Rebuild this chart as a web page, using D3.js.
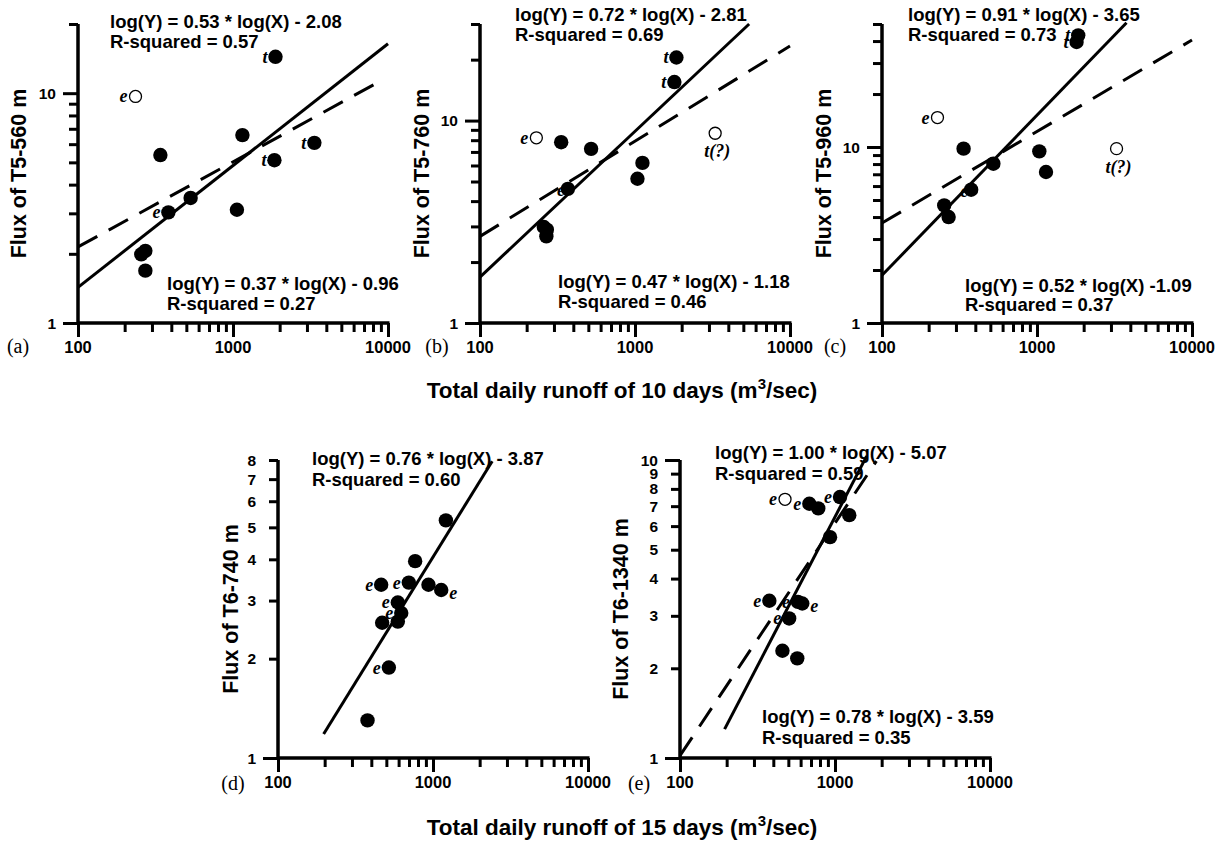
<!DOCTYPE html>
<html>
<head>
<meta charset="utf-8">
<script src="https://cdn.jsdelivr.net/npm/d3@7"></script>
<style>
  body { margin: 0; background: #fff; }
  svg text { font-family: "Liberation Sans", Arial, sans-serif; font-weight: bold; fill: #000; }
  svg text.tag, svg text.panel { font-family: "Liberation Serif", "Times New Roman", serif; font-weight: normal; }
  svg text.tag { font-style: italic; font-weight: bold; }
</style>
</head>
<body>
<svg id="fig" width="1229" height="842"></svg>
<script>
// ---------------- data ----------------
const xMajorTicks = [100, 1000, 10000];
const xMinorTicks = [200, 300, 400, 500, 600, 700, 800, 900, 2000, 3000, 4000, 5000, 6000, 7000, 8000, 9000];

const yTicksA = [1, 2, 3, 4, 5, 6, 7, 8, 9, 10, 20];
const yTicksB = [1, 2, 3, 4, 5, 6, 7, 8, 9, 10, 20, 30];
const yTicksC = [1, 2, 3, 4, 5, 6, 7, 8, 9, 10, 20, 30, 40, 50];
const yTicksD = [1, 2, 3, 4, 5, 6, 7, 8];
const yTicksE = [1, 2, 3, 4, 5, 6, 7, 8, 9, 10];
const yLabelsA = [1, 10];
const yLabelsB = [1, 10];
const yLabelsC = [1, 10];
const yLabelsD = [1, 2, 3, 4, 5, 6, 7, 8];
const yLabelsE = [1, 2, 3, 4, 5, 6, 7, 8, 9, 10];

// (a) T5-560 m vs 10-day runoff
const runoffA = [1880, 235, 1150, 3350, 340, 1850, 533, 383, 1060, 272, 256, 272];
const fluxA   = [14.4, 9.68, 6.57, 6.08, 5.38, 5.11, 3.50, 3.03, 3.11, 2.06, 1.99, 1.69];
const openA   = [false, true, false, false, false, false, false, false, false, false, false, false];
const tagA    = ["t", "e", "", "t", "", "t", "", "e", "", "", "", ""];

// (b) T5-760 m vs 10-day runoff
const runoffB = [1850, 1795, 231, 3290, 334, 521, 1117, 1037, 369, 258, 270, 268];
const fluxB   = [20.5, 15.5, 8.22, 8.66, 7.82, 7.25, 6.18, 5.16, 4.60, 2.98, 2.89, 2.68];
const openB   = [false, false, true, true, false, false, false, false, false, false, false, false];
const tagB    = ["t", "t", "e", "t(?)", "", "", "", "", "e", "", "", ""];

// (c) T5-960 m vs 10-day runoff
const runoffC = [1845, 1800, 228, 3260, 336, 1035, 1143, 523, 376, 252, 269];
const fluxC   = [43.1, 39.5, 14.7, 9.79, 9.79, 9.45, 7.21, 8.04, 5.72, 4.66, 4.0];
const openC   = [false, false, true, true, false, false, false, false, false, false, false];
const tagC    = ["t", "t", "e", "t(?)", "", "", "", "", "e", "", ""];

// (d) T6-740 m vs 15-day runoff
const runoffD = [1211, 767, 463, 698, 935, 1130, 593, 624, 470, 593, 519, 378];
const fluxD   = [5.25, 3.95, 3.35, 3.40, 3.35, 3.23, 2.96, 2.75, 2.57, 2.59, 1.88, 1.30];
const openD   = [false, false, false, false, false, false, false, false, false, false, false, false];
const tagD    = ["", "", "e", "e", "", "e", "e", "e", "", "", "e", ""];

// (e) T6-1340 m vs 15-day runoff
const runoffE = [476, 683, 780, 1077, 1236, 929, 377, 577, 615, 506, 458, 571];
const fluxE   = [7.38, 7.13, 6.88, 7.51, 6.53, 5.51, 3.37, 3.34, 3.30, 2.94, 2.29, 2.16];
const openE   = [true, false, false, false, false, false, false, false, false, false, false, false];
const tagE    = ["e", "e", "", "e", "", "", "e", "e", "e", "e", "", ""];

// fitted lines: log10(Y) = slope * log10(X) + offset, drawn over [from, to]
const fitSlopeA = [0.53, 0.37],  fitOffsetA = [-0.905, -0.409], fitRangeA = [[100, 10000], [100, 8200]];
const fitSlopeB = [0.72, 0.47],  fitOffsetB = [-1.213, -0.512], fitRangeB = [[100, 5450], [100, 10000]];
const fitSlopeC = [0.91, 0.52],  fitOffsetC = [-1.549, -0.472], fitRangeC = [[100, 3780], [100, 10000]];
const fitSlopeD = [0.76],        fitOffsetD = [-1.671],         fitRangeD = [[197, 2410]];
const fitSlopeE = [1.00, 0.78],  fitOffsetE = [-2.191, -1.552], fitRangeE = [[194, 1600], [100, 1850]];

const eqA = ["log(Y) = 0.53 * log(X) - 2.08", "R-squared = 0.57", "log(Y) = 0.37 * log(X) - 0.96", "R-squared = 0.27"];
const eqB = ["log(Y) = 0.72 * log(X) - 2.81", "R-squared = 0.69", "log(Y) = 0.47 * log(X) - 1.18", "R-squared = 0.46"];
const eqC = ["log(Y) = 0.91 * log(X) - 3.65", "R-squared = 0.73", "log(Y) = 0.52 * log(X) -1.09", "R-squared = 0.37"];
const eqD = ["log(Y) = 0.76 * log(X) - 3.87", "R-squared = 0.60"];
const eqE = ["log(Y) = 1.00 * log(X) - 5.07", "R-squared = 0.59", "log(Y) = 0.78 * log(X) - 3.59", "R-squared = 0.35"];

// ---------------- layout ----------------
const panels = [
  { x0: 78,  x1: 388, yb: 323, ymax: 20, yt: 24, ticks: yTicksA, labels: yLabelsA, major: [1, 10],
    title: "Flux of T5-560 m", titleX: 26, name: "(a)", nameX: 18, nameY: 353,
    runoff: runoffA, flux: fluxA, open: openA, tag: tagA, tagSide: {},
    slope: fitSlopeA, offset: fitOffsetA, range: fitRangeA, dash: ["", "22,13"],
    eq: eqA, eqPos: [[110, 28], [110, 48], [167, 290], [167, 310]] },
  { x0: 480, x1: 790, yb: 323, ymax: 30, yt: 24, ticks: yTicksB, labels: yLabelsB, major: [1, 10],
    title: "Flux of T5-760 m", titleX: 429, name: "(b)", nameX: 437, nameY: 353,
    runoff: runoffB, flux: fluxB, open: openB, tag: tagB, tagSide: {3: "b", 8: "in"},
    slope: fitSlopeB, offset: fitOffsetB, range: fitRangeB, dash: ["", "22,13"],
    eq: eqB, eqPos: [[515, 21], [515, 41], [558, 288], [558, 308]] },
  { x0: 882, x1: 1192, yb: 323, ymax: 50, yt: 24, ticks: yTicksC, labels: yLabelsC, major: [1, 10],
    title: "Flux of T5-960 m", titleX: 831, name: "(c)", nameX: 835, nameY: 353,
    runoff: runoffC, flux: fluxC, open: openC, tag: tagC, tagSide: {3: "b", 8: "in"},
    slope: fitSlopeC, offset: fitOffsetC, range: fitRangeC, dash: ["", "22,13"],
    eq: eqC, eqPos: [[908, 21], [908, 41], [965, 292], [965, 311]] },
  { x0: 278, x1: 588, yb: 758, ymax: 8, yt: 460, ticks: yTicksD, labels: yLabelsD, major: [1],
    title: "Flux of T6-740 m", titleX: 238, name: "(d)", nameX: 233, nameY: 790,
    runoff: runoffD, flux: fluxD, open: openD, tag: tagD, tagSide: {5: "r"},
    slope: fitSlopeD, offset: fitOffsetD, range: fitRangeD, dash: [""],
    eq: eqD, eqPos: [[312, 465], [312, 486]] },
  { x0: 680, x1: 990, yb: 758, ymax: 10, yt: 460, ticks: yTicksE, labels: yLabelsE, major: [1, 10],
    title: "Flux of T6-1340 m", titleX: 628, name: "(e)", nameX: 639, nameY: 790,
    runoff: runoffE, flux: fluxE, open: openE, tag: tagE, tagSide: {8: "r"},
    slope: fitSlopeE, offset: fitOffsetE, range: fitRangeE, dash: ["", "22,13"],
    eq: eqE, eqPos: [[715, 459], [715, 480], [762, 723], [762, 744]] }
];

const svg = d3.select("#fig");

function drawPanel(p) {
  const x = d3.scaleLog().domain([100, 10000]).range([p.x0, p.x1]);
  const y = d3.scaleLog().domain([1, p.ymax]).range([p.yb, p.yt]);
  const g = svg.append("g");

  // tick marks
  const xMaj = g.append("g").attr("transform", `translate(0,${y(1)})`)
    .call(d3.axisBottom(x).tickValues(xMajorTicks).tickSize(14).tickSizeOuter(0).tickFormat(""));
  const xMin = g.append("g").attr("transform", `translate(0,${y(1)})`)
    .call(d3.axisBottom(x).tickValues(xMinorTicks).tickSize(9).tickSizeOuter(0).tickFormat(""));
  const yMaj = g.append("g").attr("transform", `translate(${x(100)},0)`)
    .call(d3.axisLeft(y).tickValues(p.major).tickSize(15).tickSizeOuter(0).tickFormat(""));
  const yMin = g.append("g").attr("transform", `translate(${x(100)},0)`)
    .call(d3.axisLeft(y).tickValues(p.ticks.filter(t => !p.major.includes(t))).tickSize(9).tickSizeOuter(0).tickFormat(""));
  [xMaj, xMin, yMaj, yMin].forEach(a => {
    a.select(".domain").remove();
    a.selectAll(".tick line").attr("stroke", "#000").attr("stroke-width", 3);
  });

  // axis lines
  g.append("line").attr("x1", x(100)).attr("x2", x(100)).attr("y1", y(p.ymax)).attr("y2", y(1))
    .attr("stroke", "#000").attr("stroke-width", 3.5);
  g.append("line").attr("x1", x(100)).attr("x2", x(10000) + 1.5).attr("y1", y(1)).attr("y2", y(1))
    .attr("stroke", "#000").attr("stroke-width", 3.5);

  // tick labels
  g.selectAll(null).data(xMajorTicks).join("text")
    .attr("x", d => x(d)).attr("y", y(1) + 30).attr("text-anchor", "middle")
    .attr("font-size", 16.5).text(d => d);
  g.selectAll(null).data(p.labels).join("text")
    .attr("x", x(100) - 22).attr("y", d => y(d) + 5.5).attr("text-anchor", "end")
    .attr("font-size", 15.5).text(d => d);

  // axis title and panel name
  g.append("text").attr("transform", `translate(${p.titleX},${(p.yt + p.yb) / 2}) rotate(-90)`)
    .attr("text-anchor", "middle").attr("font-size", 21.5).text(p.title);
  g.append("text").attr("class", "panel").attr("x", p.nameX).attr("y", p.nameY)
    .attr("text-anchor", "middle").attr("font-size", 20).text(p.name);

  // fitted lines
  const line = d3.line().x(d => x(d[0])).y(d => y(d[1]));
  p.slope.forEach((s, i) => {
    const pts = p.range[i].map(v => [v, Math.pow(10, s * Math.log10(v) + p.offset[i])]);
    g.append("path").attr("d", line(pts)).attr("fill", "none").attr("stroke", "#000")
      .attr("stroke-width", 3).attr("stroke-dasharray", p.dash[i] || null);
  });

  // points
  const pts = p.runoff.map((v, i) => ({ x: v, y: p.flux[i], open: p.open[i], tag: p.tag[i], i }));
  g.selectAll(null).data(pts).join("circle")
    .attr("cx", d => x(d.x)).attr("cy", d => y(d.y))
    .attr("r", d => d.open ? 6 : 7.2)
    .attr("fill", d => d.open ? "#fff" : "#000")
    .attr("stroke", "#000").attr("stroke-width", d => d.open ? 1.3 : 0);

  // point tags
  g.selectAll(null).data(pts.filter(d => d.tag)).join("text")
    .attr("class", "tag").attr("font-size", 18)
    .each(function (d) {
      const side = p.tagSide[d.i] || "l";
      const cx = x(d.x), cy = y(d.y);
      const t = d3.select(this).text(d.tag);
      if (side === "r") t.attr("x", cx + 8).attr("y", cy + 9).attr("text-anchor", "start");
      else if (side === "b") t.attr("x", cx + 2).attr("y", cy + 24).attr("text-anchor", "middle");
      else if (side === "in") t.attr("x", cx - 3).attr("y", cy + 7).attr("text-anchor", "end");
      else t.attr("x", cx - 8).attr("y", cy + 6).attr("text-anchor", "end");
    });

  // equations
  p.eq.forEach((s, i) => {
    g.append("text").attr("x", p.eqPos[i][0]).attr("y", p.eqPos[i][1])
      .attr("font-size", 18.5).text(s);
  });
}

panels.forEach(drawPanel);

// shared x-axis titles
function xTitle(days, cy) {
  const t = svg.append("text").attr("x", 622).attr("y", cy).attr("text-anchor", "middle").attr("font-size", 22.5);
  t.append("tspan").text(`Total daily runoff of ${days} days (m`);
  t.append("tspan").attr("font-size", 15).attr("dy", -9).text("3");
  t.append("tspan").attr("dy", 9).text("/sec)");
}
xTitle(10, 398);
xTitle(15, 835);
</script>
</body>
</html>
